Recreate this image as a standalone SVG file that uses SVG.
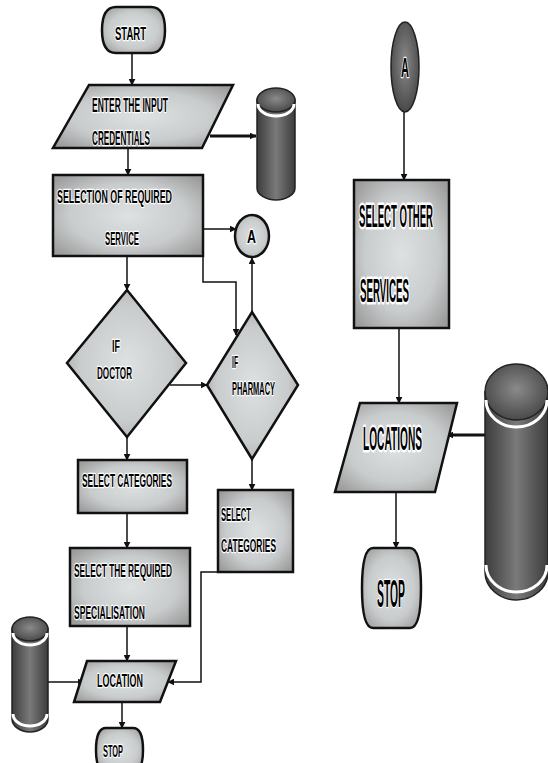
<svg xmlns="http://www.w3.org/2000/svg" width="548" height="763" viewBox="0 0 548 763">
<defs>
<radialGradient id="g" cx="50%" cy="50%" r="65%">
<stop offset="0" stop-color="#dde1e2"/>
<stop offset="0.6" stop-color="#c9cccd"/>
<stop offset="1" stop-color="#9c9c9c"/>
</radialGradient>
<linearGradient id="dk" x1="0" y1="0" x2="1" y2="0">
<stop offset="0" stop-color="#3c3c3c"/>
<stop offset="0.5" stop-color="#7a7a7a"/>
<stop offset="1" stop-color="#3c3c3c"/>
</linearGradient>
<radialGradient id="dkr" cx="50%" cy="45%" r="60%">
<stop offset="0" stop-color="#8a8a8a"/>
<stop offset="1" stop-color="#444"/>
</radialGradient>
<marker id="ah" viewBox="0 0 10 10" refX="9" refY="5" markerWidth="7" markerHeight="7" markerUnits="userSpaceOnUse" orient="auto">
<path d="M0,0 L10,5 L0,10 Z" fill="#111"/>
</marker>
</defs>
<style>
.box{fill:url(#g);stroke:#111;stroke-width:2.5}
.cyl{fill:url(#dk);stroke:#222;stroke-width:1.5}
.top{fill:url(#dkr);stroke:#222;stroke-width:1.5}
.rim{fill:none;stroke:#fff;stroke-width:3}
.t{font-family:"Liberation Sans",Arial,sans-serif;font-weight:bold;fill:#000;stroke:#fff;stroke-width:2.5;paint-order:stroke;stroke-linejoin:round}
.c{stroke:#111;stroke-width:1.5;fill:none;marker-end:url(#ah)}
.ck{stroke:#111;stroke-width:3;fill:none;marker-end:url(#ah)}
</style>
<rect width="548" height="763" fill="#fff"/>

<g id="connectors">
<path class="c" d="M132,53 V85"/>
<path class="ck" d="M210,136 H256"/>
<path class="c" d="M128,148 V175"/>
<path class="c" d="M203,229 H236"/>
<path class="c" d="M203,256 V282 H236 V335"/>
<path class="c" d="M252,312 V258"/>
<path class="c" d="M127,256 V290"/>
<path class="c" d="M170,385 H207"/>
<path class="c" d="M127,437 V460"/>
<path class="c" d="M252,459 V490"/>
<path class="c" d="M127,513 V548"/>
<path class="c" d="M127,626 V661"/>
<path class="c" d="M48,682 H84"/>
<path class="c" d="M218,572 H201 V682 H168"/>
<path class="c" d="M122,702 V728"/>
<path class="c" d="M404,112 V180"/>
<path class="c" d="M399,328 V403"/>
<path class="ck" d="M485,435 H447"/>
<path class="c" d="M396,492 V548"/>
</g>

<g id="start">
<path class="box" d="M116,7 H151 Q165,7 165,30 Q165,53 151,53 H116 Q102,53 102,30 Q102,7 116,7 Z"/>
<text class="t" x="115" y="40" font-size="18" textLength="31" lengthAdjust="spacingAndGlyphs">START</text>
</g>

<g id="enter">
<path class="box" d="M89,85 H233 L202,148 H53 Z"/>
<text class="t" x="92" y="112" font-size="20" textLength="76" lengthAdjust="spacingAndGlyphs">ENTER THE INPUT</text>
<text class="t" x="92" y="145" font-size="20" textLength="58" lengthAdjust="spacingAndGlyphs">CREDENTIALS</text>
</g>

<g id="db1">
<path class="cyl" d="M257,100 V188 A19,12 0 0 0 295,188 V100 Z"/>
<ellipse class="top" cx="276" cy="100" rx="19" ry="12"/>
<path class="rim" d="M258,104 A18,12 0 0 0 294,104"/>
</g>

<g id="selection">
<rect class="box" x="53" y="175" width="150" height="81"/>
<text class="t" x="57" y="203" font-size="18" textLength="115" lengthAdjust="spacingAndGlyphs">SELECTION  OF REQUIRED</text>
<text class="t" x="105" y="245" font-size="18" textLength="34" lengthAdjust="spacingAndGlyphs">SERVICE</text>
</g>

<g id="connA">
<ellipse class="box" cx="252" cy="236" rx="17" ry="21"/>
<text class="t" x="247" y="243" font-size="19" textLength="9" lengthAdjust="spacingAndGlyphs">A</text>
</g>

<g id="doctor">
<path class="box" d="M127,290 L186,363 L127,437 L67,363 Z"/>
<text class="t" x="112" y="352" font-size="16" textLength="8" lengthAdjust="spacingAndGlyphs">IF</text>
<text class="t" x="97" y="379" font-size="17" textLength="35" lengthAdjust="spacingAndGlyphs">DOCTOR</text>
</g>

<g id="pharmacy">
<path class="box" d="M252,312 L298,385 L252,459 L207,385 Z"/>
<text class="t" x="232" y="368" font-size="17" textLength="6" lengthAdjust="spacingAndGlyphs">IF</text>
<text class="t" x="232" y="395" font-size="18" textLength="43" lengthAdjust="spacingAndGlyphs">PHARMACY</text>
</g>

<g id="selcat1">
<rect class="box" x="78" y="460" width="109" height="53"/>
<text class="t" x="82" y="487" font-size="18" textLength="90" lengthAdjust="spacingAndGlyphs">SELECT  CATEGORIES</text>
</g>

<g id="selcat2">
<rect class="box" x="218" y="490" width="75" height="82"/>
<text class="t" x="221" y="521" font-size="19" textLength="30" lengthAdjust="spacingAndGlyphs">SELECT</text>
<text class="t" x="221" y="552" font-size="19" textLength="55" lengthAdjust="spacingAndGlyphs">CATEGORIES</text>
</g>

<g id="special">
<rect class="box" x="70" y="548" width="120" height="78"/>
<text class="t" x="74" y="577" font-size="19" textLength="98" lengthAdjust="spacingAndGlyphs">SELECT THE REQUIRED</text>
<text class="t" x="74" y="619" font-size="18" textLength="71" lengthAdjust="spacingAndGlyphs">SPECIALISATION</text>
</g>

<g id="db2">
<path class="cyl" d="M12,629 V719 A18,13 0 0 0 48,719 V629 Z"/>
<ellipse class="top" cx="30" cy="629" rx="18" ry="12"/>
<path class="rim" d="M13,633 A17,12 0 0 0 47,633"/>
<path class="rim" d="M13,714 A17,12 0 0 0 47,714"/>
</g>

<g id="location">
<path class="box" d="M87,661 H176 L160,702 H74 Z"/>
<text class="t" x="97" y="687" font-size="18" textLength="46" lengthAdjust="spacingAndGlyphs">LOCATION</text>
</g>

<g id="stop1">
<path class="box" d="M106,728 H133 Q143,728 143,750 Q143,772 133,772 H106 Q96,772 96,750 Q96,728 106,728 Z"/>
<text class="t" x="103" y="757" font-size="17" textLength="20" lengthAdjust="spacingAndGlyphs">STOP</text>
</g>

<g id="connA2">
<ellipse cx="405" cy="67" rx="14" ry="45" fill="url(#dkr)" stroke="#222" stroke-width="1.5"/>
<text class="t" x="401" y="77" font-size="28" textLength="8" lengthAdjust="spacingAndGlyphs">A</text>
</g>

<g id="other">
<rect class="box" x="354" y="180" width="95" height="148"/>
<text class="t" transform="translate(359,227) scale(1,2)" x="0" y="0" font-size="16" stroke-width="1.5" textLength="74" lengthAdjust="spacingAndGlyphs">SELECT OTHER</text>
<text class="t" transform="translate(360,302) scale(1,2)" x="0" y="0" font-size="16.5" stroke-width="1.5" textLength="49" lengthAdjust="spacingAndGlyphs">SERVICES</text>
</g>

<g id="locations">
<path class="box" d="M360,403 H457 L435,492 H335 Z"/>
<text class="t" transform="translate(363,450) scale(1,2)" x="0" y="0" font-size="17" stroke-width="1.5" textLength="59" lengthAdjust="spacingAndGlyphs">LOCATIONS</text>
</g>

<g id="db3">
<path class="cyl" d="M485,392 V572 A31.5,28 0 0 0 548,572 V392 Z"/>
<ellipse class="top" cx="516.5" cy="392" rx="31.5" ry="28"/>
<path class="rim" d="M486,400 A30.5,27 0 0 0 547,400"/>
<path class="rim" d="M486,565 A30.5,27 0 0 0 547,565"/>
</g>

<g id="stop2">
<path class="box" d="M373,548 H410 Q421,548 421,588 Q421,628 410,628 H373 Q362,628 362,588 Q362,548 373,548 Z"/>
<text class="t" x="377" y="607" font-size="38" textLength="28" lengthAdjust="spacingAndGlyphs">STOP</text>
</g>
</svg>
